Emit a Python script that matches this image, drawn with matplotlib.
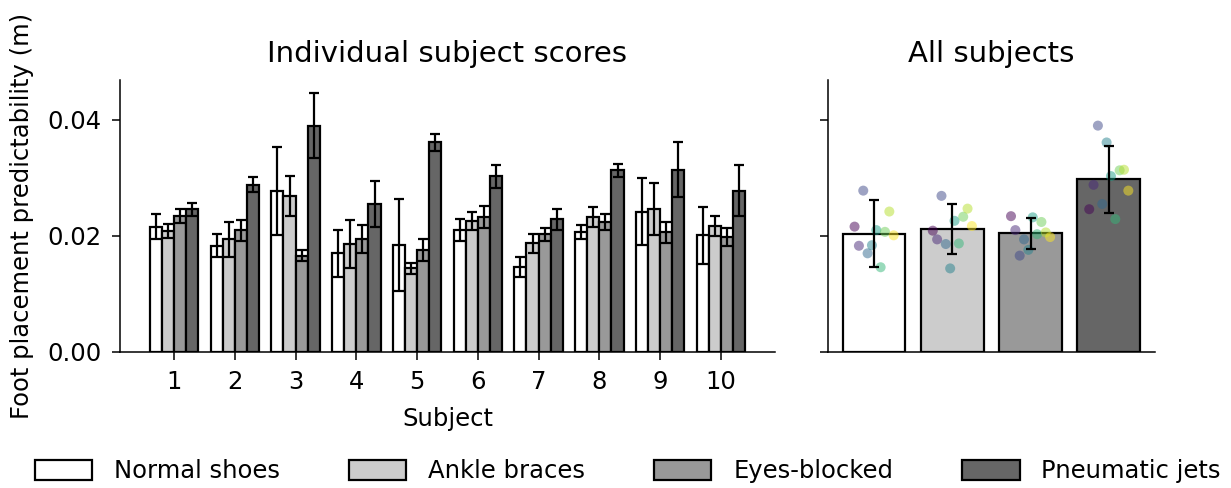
import numpy as np
import matplotlib
matplotlib.use("Agg")
import matplotlib.pyplot as plt

plt.rcParams['font.family'] = ['DejaVu Sans']
plt.rcParams['font.size'] = 17.5

# Per-subject foot placement predictability (m) and error bars
subjects = [1, 2, 3, 4, 5, 6, 7, 8, 9, 10]
conditions = ["Normal shoes", "Ankle braces", "Eyes-blocked", "Pneumatic jets"]

normal = [0.0216, 0.0183, 0.0278, 0.0170, 0.0184, 0.0210, 0.0146, 0.0207, 0.0242, 0.0201]
normal_err = [0.0022, 0.0020, 0.0076, 0.0041, 0.0079, 0.0019, 0.0017, 0.0012, 0.0057, 0.0049]
ankle = [0.0209, 0.0194, 0.0269, 0.0186, 0.0144, 0.0226, 0.0187, 0.0233, 0.0247, 0.0217]
ankle_err = [0.0012, 0.0030, 0.0035, 0.0042, 0.0010, 0.0015, 0.0016, 0.0017, 0.0045, 0.0017]
eyes = [0.0234, 0.0210, 0.0166, 0.0194, 0.0176, 0.0232, 0.0203, 0.0224, 0.0206, 0.0198]
eyes_err = [0.0012, 0.0018, 0.0009, 0.0024, 0.0019, 0.0019, 0.0011, 0.0013, 0.0018, 0.0015]
jets = [0.0246, 0.0288, 0.0390, 0.0255, 0.0361, 0.0303, 0.0229, 0.0313, 0.0314, 0.0278]
jets_err = [0.0011, 0.0013, 0.0056, 0.0040, 0.0015, 0.0020, 0.0018, 0.0011, 0.0047, 0.0044]

# Error bars on the pooled (all subjects) bars
group_err = [0.0058, 0.0043, 0.0026, 0.0058]

values = [normal, ankle, eyes, jets]
errors = [normal_err, ankle_err, eyes_err, jets_err]
fills = ["#ffffff", "#cccccc", "#999999", "#666666"]

fig = plt.figure(figsize=(12.31, 4.88), dpi=100)
ax1 = fig.add_axes([0.0975, 0.2787, 0.532, 0.557])
ax2 = fig.add_axes([0.6726, 0.2787, 0.2656, 0.557], sharey=ax1)

lw = 1.6
err_kw = dict(ecolor="black", elinewidth=lw, capsize=3.5, capthick=lw)

x = np.array(subjects, dtype=float)
w = 0.2
for i, (vals, errs) in enumerate(zip(values, errors)):
    ax1.bar(x + (i - 1.5) * w, vals, width=w, yerr=errs, color=fills[i],
            edgecolor="black", linewidth=lw, error_kw=err_kw,
            label=conditions[i], zorder=2)

ax1.set_xticks(subjects)
ax1.set_xlabel("Subject", labelpad=9)
ax1.set_ylabel("Foot placement predictability (m)", labelpad=10)
ax1.set_title("Individual subject scores", pad=13)
ax1.set_yticks([0.0, 0.02, 0.04])
ax1.yaxis.set_major_formatter(matplotlib.ticker.FormatStrFormatter("%.2f"))

# Pooled bars with each subject shown as a point
pos = np.arange(len(conditions))
means = [np.mean(v) for v in values]
ax2.bar(pos, means, width=0.8, color=fills, edgecolor="black", linewidth=lw, zorder=2)
colors = plt.cm.viridis(np.linspace(0, 1, len(subjects)))
offsets = np.linspace(-0.25, 0.25, len(subjects))
for i, vals in enumerate(values):
    ax2.scatter(pos[i] + offsets, vals, s=52, c=colors, alpha=0.5,
                edgecolors="none", zorder=3)
ax2.errorbar(pos, means, yerr=group_err, fmt="none", zorder=4, **err_kw)
ax2.set_xticks([])
ax2.tick_params(axis="y", labelleft=False)
ax2.set_title("All subjects", pad=13)

for ax in (ax1, ax2):
    ax.spines["top"].set_visible(False)
    ax.spines["right"].set_visible(False)
    for s in ("left", "bottom"):
        ax.spines[s].set_linewidth(1.1)
    ax.tick_params(width=1.1, length=6, pad=7)

handles, labels = ax1.get_legend_handles_labels()
handles = [h.patches[0] for h in handles]
fig.legend(handles, labels, loc="lower center", bbox_to_anchor=(0.51, -0.035),
           ncol=4, frameon=False, handlelength=2.35, handleheight=0.9,
           handletextpad=0.9, columnspacing=2.85)

fig.savefig("out.png", dpi=100)
